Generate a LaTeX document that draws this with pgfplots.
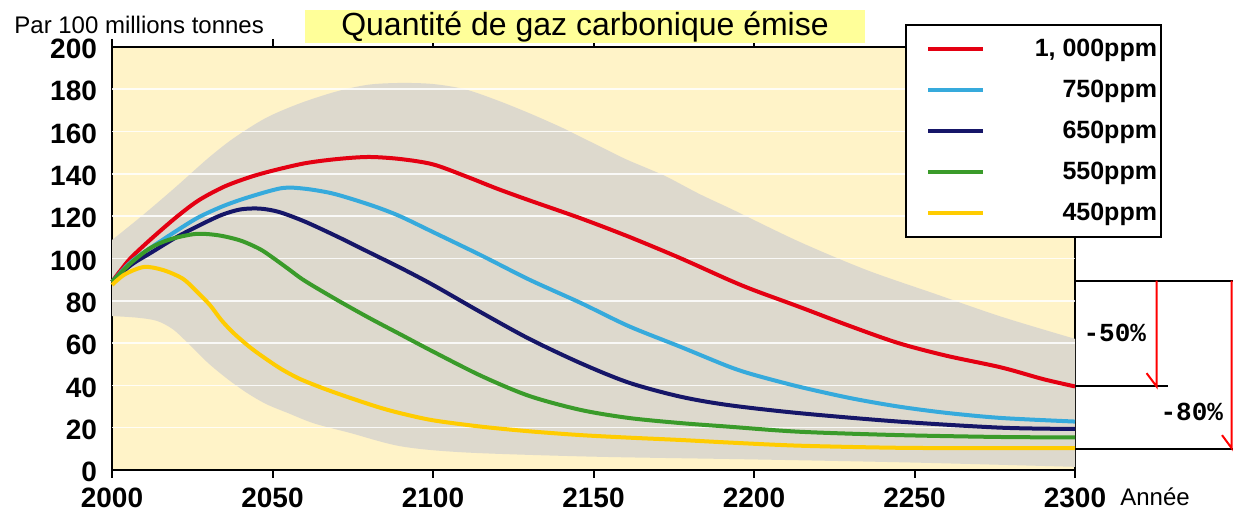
\documentclass[border=0pt]{standalone}
\usepackage{fontspec}
\setmainfont{Liberation Sans}
\setmonofont{Liberation Mono}
\usepackage{pgfplots}
\pgfplotsset{compat=1.18}
\usepgfplotslibrary{fillbetween}
\definecolor{bgyel}{RGB}{255,243,200}
\definecolor{band}{RGB}{221,217,205}
\definecolor{cred}{RGB}{228,0,18}
\definecolor{cblue}{RGB}{54,170,220}
\definecolor{cnavy}{RGB}{22,22,104}
\definecolor{cgreen}{RGB}{58,155,42}
\definecolor{cyel}{RGB}{255,204,0}
\definecolor{titley}{RGB}{255,255,153}
\begin{document}
\begin{tikzpicture}
\begin{axis}[
 at={(56pt,22pt)}, anchor=south west,
 scale only axis, width=481.5pt, height=211.5pt,
 xmin=2000, xmax=2300, ymin=0, ymax=200,
 xtick={2000,2050,...,2300}, ytick={0,20,...,200},
 tick align=outside, major tick length=4pt,
 ytick style={draw=none}, xtick style={black, line width=1pt},
 axis line style={line width=1.2pt},
 axis background/.style={fill=bgyel},
 tick label style={font=\fontsize{14}{14}\selectfont\bfseries},
 xticklabel style={yshift=-1.5pt},
 yticklabel style={yshift=-1pt},
 /pgf/number format/assume math mode=true,
 /pgf/number format/1000 sep={},
 clip=false,
 legend style={at={(0.8235,1.0544)}, anchor=north west, draw=black, line width=1pt,
   fill=white, inner xsep=0pt, inner ysep=5pt, row sep=6.25pt,
   font=\fontsize{12.5}{12.5}\selectfont\bfseries, cells={anchor=east}},
 legend image code/.code={\path (-10pt,0pt) (27.5pt,0pt); \draw[#1,line width=2pt] (0pt,0pt) -- (27.5pt,0pt);},
]
% uncertainty band
\addplot[name path=up, draw=none, smooth, forget plot] coordinates {
(2000,108.7) (2010,121) (2020,134) (2030,147.5) (2038,157) (2048,166.5) (2058.6,173.4)
(2070,179) (2080,182.2) (2090,183) (2100,182.5) (2110,180) (2120,174.8) (2130,168.7)
(2140,162) (2146,157.5) (2152,153) (2160,147) (2167,142.5) (2173,138.5) (2183,130.5)
(2193.5,123) (2214,108) (2235,94.6) (2256,83.5) (2277,72.5) (2300,62)};
\addplot[name path=lo, draw=none, smooth, forget plot] coordinates {
(2000,72.8) (2008,72) (2014,70.5) (2019,66.5) (2024,59.5) (2030,50.5) (2036,43) (2042,36.5)
(2048,31.2) (2055,26.8) (2063,22) (2074,17.6) (2090,11.2) (2110,8.3) (2150,6.3) (2200,5)
(2250,3.5) (2300,1.5)};
\addplot[fill=band, draw=none, forget plot] fill between[of=up and lo];
\pgfplotsinvokeforeach{20,40,60,80,100,120,140,160,180}{
 \draw[white, opacity=0.85, line width=0.8pt] (axis cs:2000,#1) -- (axis cs:2300,#1);}
% scenarios
\addplot[cred, line width=2pt, smooth] coordinates {
(2000,89) (2003,95) (2006,100.5) (2012,109) (2020,119.5) (2027,127.5) (2035,134) (2043,138.5)
(2050,141.5) (2060,145) (2070,147) (2080,148) (2090,147) (2100,144.5) (2110,139) (2120,133)
(2130,127.5) (2146,119) (2161,110.3) (2177,100.2) (2192,90) (2200,85)
(2214,77.2) (2230,68) (2245,60) (2260,54) (2277,48.5) (2290,43) (2300,39.5)};
\addlegendentry{\makebox[84pt][r]{1, 000ppm}}
\addplot[cblue, line width=2pt, smooth] coordinates {
(2000,89) (2006,98.5) (2012,105) (2020,113) (2027,119.5) (2035,125) (2043,129.2) (2053,133.3)
(2060,133) (2068,131) (2075,128) (2083,124) (2090,119.8) (2100,112.5) (2115,101.5) (2130,90)
(2146,79) (2161,68) (2177,58.3) (2192,49) (2200,45) (2214,39.4) (2230,34) (2245,30) (2260,27)
(2277,24.6) (2300,22.9)};
\addlegendentry{\makebox[84pt][r]{750ppm}}
\addplot[cnavy, line width=2pt, smooth] coordinates {
(2000,89) (2006,97) (2012,102.6) (2020,110) (2027,115.5) (2034,120.5) (2040,123.2) (2046,123.6)
(2052,122) (2060,117.5) (2070,110.5) (2080,103) (2090,95.5) (2100,87.5) (2115,74.5) (2130,62)
(2146,50.5) (2161,41.3) (2177,34.7) (2192,30.7) (2214,26.9)
(2245,22.9) (2277,20) (2300,19.4)};
\addlegendentry{\makebox[84pt][r]{650ppm}}
\addplot[cgreen, line width=2pt, smooth] coordinates {
(2000,89) (2006,98) (2012,105) (2018,109) (2026,111.6) (2033,111) (2040,108.5) (2046,104.5)
(2050,100.5) (2055,95) (2060,89.5) (2070,80.5) (2080,72) (2090,64) (2100,56) (2115,44.5)
(2130,35) (2146,28.4) (2161,24.6) (2177,22.2) (2192,20.5) (2214,18.1) (2245,16.5)
(2277,15.6) (2300,15.4)};
\addlegendentry{\makebox[84pt][r]{550ppm}}
\addplot[cyel, line width=2pt, smooth] coordinates {
(2000,87.5) (2004,92.5) (2010,96) (2016,94.5) (2022,90.5) (2026,85) (2030.5,78) (2034,71)
(2037.7,65) (2043,58) (2048,52.5) (2053,47.5) (2058.6,43) (2066,38.5) (2074,34.2)
(2083,29.7) (2090,26.8) (2100,23.5) (2115,20.5) (2130,18.3) (2146,16.5) (2161,15.3)
(2177,14.2) (2192,13) (2214,11.5) (2245,10.5) (2277,10.3) (2300,10.4)};
\addlegendentry{\makebox[84pt][r]{450ppm}\rule[-6.5pt]{0pt}{1pt}}
% reduction annotations
\draw[black, line width=1pt] (axis cs:2300,89.5) -- (axis cs:2352,89.5);
\draw[black, line width=1pt] (axis cs:2300,39.5) -- (axis cs:2329,39.5);
\draw[black, line width=1pt] (axis cs:2300,10) -- (axis cs:2352,10);
\draw[red, line width=1pt] (axis cs:2325.4,89.5) -- (axis cs:2325.4,39.5) -- (axis cs:2322.3,45.8);
\draw[red, line width=1pt] (axis cs:2348.8,89.5) -- (axis cs:2348.8,10.3) -- (axis cs:2345.8,16.5);
\node[font=\fontsize{13}{13}\selectfont\ttfamily\bfseries] at (axis cs:2312.4,64.8) {-50\%};
\node[font=\fontsize{13}{13}\selectfont\ttfamily\bfseries] at (axis cs:2336.4,27.4) {-80\%};
\end{axis}
\fill[titley] (152.5pt,235.5pt) rectangle (432.5pt,252pt);
\node[font=\fontsize{16}{16}\selectfont] at (292.5pt,243.6pt) {Quantité de gaz carbonique émise};
\node[anchor=west, inner sep=0pt, font=\fontsize{12}{12}\selectfont] at (7pt,244.5pt) {Par 100 millions tonnes};
\node[font=\fontsize{12}{12}\selectfont] at (577.5pt,8.5pt) {Année};
\pgfresetboundingbox
\path[use as bounding box] (0pt,0pt) rectangle (616.5pt,257pt);
\end{tikzpicture}
\end{document}
